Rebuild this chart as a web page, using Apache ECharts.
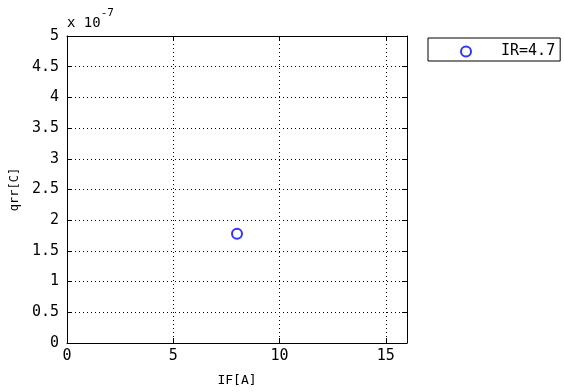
<!DOCTYPE html>
<html>
<head>
<meta charset="utf-8">
<script src="https://cdn.jsdelivr.net/npm/echarts@6/dist/echarts.min.js"></script>
<style>html,body{margin:0;padding:0;background:#fff}#c{width:564px;height:392px}</style>
</head>
<body>
<div id="c"></div>
<script>
var seriesName = 'IR=4.7';
var ifValues = [8];
var qrrValues = [1.78e-7];
var xTicks = [0, 5, 10, 15];
var yTickLabels = ['0','0.5','1','1.5','2','2.5','3','3.5','4','4.5','5'];
var yScale = 1e-7;

var FONT = '"DejaVu Sans Mono", monospace';
var chart = echarts.init(document.getElementById('c'), null, {renderer: 'canvas'});
var gridStyle = {show: true, lineStyle: {color: '#000', type: [1, 3], width: 1}};
var tickIn = {show: true, inside: true, length: 5, lineStyle: {color: '#000'}};
var lineBlack = {show: true, onZero: false, lineStyle: {color: '#000', width: 1}};
chart.setOption({
  animation: false,
  grid: {left: 67, top: 36, right: 157, bottom: 49, containLabel: false},
  legend: {
    data: [{name: seriesName, icon: 'emptyCircle'}],
    left: 428, top: 38,
    orient: 'vertical',
    itemWidth: 10, itemHeight: 10,
    padding: [6, 5, 2, 32],
    borderColor: '#000', borderWidth: 1,
    textStyle: {fontFamily: FONT, fontSize: 15, lineHeight: 15, color: '#000', padding: [0, 0, 0, 25]},
    selectedMode: false
  },
  xAxis: [{
    type: 'value', min: 0, max: 16, interval: 5, position: 'bottom',
    name: 'IF[A]', nameLocation: 'middle', nameGap: 31,
    nameTextStyle: {fontFamily: FONT, fontSize: 13, color: '#000'},
    axisLine: lineBlack, axisTick: tickIn,
    axisLabel: {fontFamily: FONT, fontSize: 15, color: '#000', margin: 6,
      formatter: function (v) { return xTicks.indexOf(v) >= 0 ? String(v) : ''; }},
    splitLine: gridStyle
  }, {
    type: 'value', min: 0, max: 16, interval: 5, position: 'top',
    axisLine: lineBlack, axisTick: tickIn, axisLabel: {show: false}, splitLine: {show: false}
  }],
  yAxis: [{
    type: 'value', min: 0, max: 5 * yScale, interval: 0.5 * yScale, position: 'left',
    name: 'qrr[C]', nameLocation: 'middle', nameGap: 45,
    nameTextStyle: {fontFamily: FONT, fontSize: 12, color: '#000'},
    axisLine: lineBlack, axisTick: tickIn,
    axisLabel: {fontFamily: FONT, fontSize: 15, color: '#000', margin: 8,
      formatter: function (v) { var i = Math.round(v / (0.5 * yScale)); return yTickLabels[i] || ''; }},
    splitLine: gridStyle
  }, {
    type: 'value', min: 0, max: 5 * yScale, interval: 0.5 * yScale, position: 'right',
    axisLine: lineBlack, axisTick: tickIn, axisLabel: {show: false}, splitLine: {show: false}
  }],
  graphic: [{
    type: 'text', left: 67, top: 8,
    style: {
      text: '{a|x 10}{b|-7}',
      rich: {
        a: {fontFamily: FONT, fontSize: 14, fill: '#000', verticalAlign: 'bottom', padding: [8, 0, 0, 0]},
        b: {fontFamily: FONT, fontSize: 11, fill: '#000', verticalAlign: 'top'}
      }
    }
  }],
  series: [{
    name: seriesName, type: 'scatter',
    symbol: 'emptyCircle', symbolSize: 10,
    itemStyle: {color: '#0000ff', borderColor: '#0000ff', borderWidth: 1.2},
    data: ifValues.map(function (x, i) { return [x, qrrValues[i]]; })
  }]
});
</script>
</body>
</html>
